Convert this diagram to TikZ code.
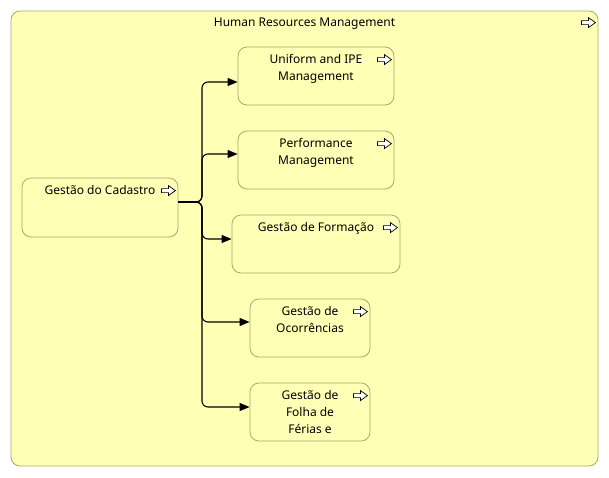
\documentclass[tikz,border=0pt]{standalone}
\usepackage{fontspec}
\setmainfont{Noto Sans}
\usetikzlibrary{arrows.meta}
\usetikzlibrary{positioning}
\definecolor{bizfill}{HTML}{FFFFB5}
\definecolor{bizline}{HTML}{A8A872}
\tikzset{proc/.style = {draw = bizline, fill = bizfill, line width = 0.8pt, rounded corners = 9pt, minimum height = 58pt, inner sep = 0}}
\tikzset{lbl/.style = {anchor = north, align = center, inner sep = 0, font = \fontsize{12}{17}\selectfont}}
\tikzset{conn/.style = {line width = 1.1pt, rounded corners = 6pt, -{Triangle[length = 10pt, width = 8pt]}}}
\tikzset{procicon/.pic = {\draw [line width = 0.7pt, fill = white] (-7, -2) -- (0, -2) -- (0, -5) -- (7, 0) -- (0, 5) -- (0, 2) -- (-7, 2) -- cycle;}}

\begin{document}
\begin{tikzpicture}[x = 1pt, y = -1pt]
\useasboundingbox (0, 0) rectangle (609, 477);

      \node [proc, minimum width = 587pt, minimum height = 455pt] (hrm) at (304.5, 238.5) {};
      \node [lbl] (hrmtxt) at ([yshift = -7.5pt] hrm.north) {Human Resources Management};
      \pic at ([xshift = -10pt, yshift = -12pt] hrm.north east) {procicon};

      \node [proc, minimum width = 156pt, minimum height = 59pt] (cad) at (100, 207.5) {};
      \node [lbl] (cadtxt) at ([yshift = -7.5pt] cad.north) {Gestão do Cadastro};
      \pic at ([xshift = -10pt, yshift = -13pt] cad.north east) {procicon};

      \node [proc, minimum width = 156pt] (uni) at (316, 76) {};
      \node [lbl] (unitxt) at ([yshift = -7.5pt] uni.north) {Uniform and IPE\\Management};
      \pic at ([xshift = -10pt, yshift = -13pt] uni.north east) {procicon};

      \node [proc, minimum width = 156pt] (perf) at (316, 160) {};
      \node [lbl] (perftxt) at ([yshift = -7.5pt] perf.north) {Performance\\Management};
      \pic at ([xshift = -10pt, yshift = -13pt] perf.north east) {procicon};

      \node [proc, minimum width = 168pt] (form) at (316, 244) {};
      \node [lbl] (formtxt) at ([yshift = -7.5pt] form.north) {Gestão de Formação};
      \pic at ([xshift = -10pt, yshift = -13pt] form.north east) {procicon};

      \node [proc, minimum width = 120pt] (ocor) at (310, 328) {};
      \node [lbl] (ocortxt) at ([yshift = -7.5pt] ocor.north) {Gestão de\\Ocorrências};
      \pic at ([xshift = -10pt, yshift = -13pt] ocor.north east) {procicon};

      \node [proc, minimum width = 120pt] (folha) at (310, 412) {};
      \node [lbl] (folhatxt) at ([yshift = -7.5pt] folha.north) {Gestão de\\Folha de\\Férias e};
      \pic at ([xshift = -10pt, yshift = -13pt] folha.north east) {procicon};

      \coordinate (split) at (202, 202);
      \draw [conn] ([yshift = 5.5pt] cad.east) -- (split) |- ([yshift = -6pt] uni.west);
      \draw [conn] ([yshift = 5.5pt] cad.east) -- (split) |- ([yshift = 6pt] perf.west);
      \draw [conn] ([yshift = 5.5pt] cad.east) -- (split) |- ([yshift = 5pt] form.west);
      \draw [conn] ([yshift = 5.5pt] cad.east) -- (split) |- ([yshift = 6pt] ocor.west);
      \draw [conn] ([yshift = 5.5pt] cad.east) -- (split) |- ([yshift = 5pt] folha.west);
    \end{tikzpicture}
\end{document}
